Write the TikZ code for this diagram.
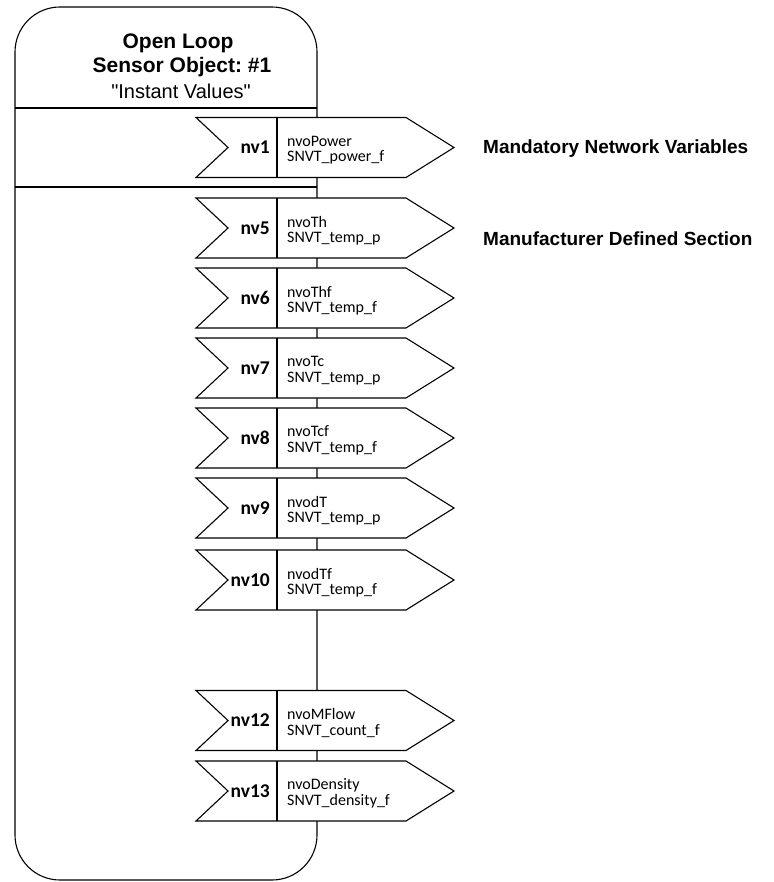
\documentclass[tikz,border=0pt]{standalone}
\usepackage{fontspec}
\setmainfont{Liberation Sans}
\newfontfamily\arialq{Liberation Sans}
\newfontfamily\calfont{Carlito}
\frenchspacing
\tikzset{
  outline/.style={line width=1.1pt, draw=black},
  nvshape/.style={outline, fill=white, line join=miter},
  nvlab/.style={font=\calfont\bfseries\fontsize{19.5}{20}\selectfont, inner sep=0pt},
  varlab/.style={font=\calfont\fontsize{16}{15.5}\selectfont, align=left, inner sep=0pt},
  sidelab/.style={font=\bfseries\fontsize{19}{22}\selectfont, inner sep=0pt, anchor=west},
  titlelab/.style={align=center, inner sep=0pt}
}
\newcommand\nvarrow[5]{%
  \draw[nvshape] (196,{#2-30}) -- (406,{#2-30}) -- (454,#2) -- (406,{#2+30}) -- (196,{#2+30}) -- (228,#2) -- cycle;
  \draw[outline] (277,{#2-30}) -- (277,{#2+30});
  \node[nvlab, anchor=east] (#1n) at (270,#2) {#3};
  \node[varlab, anchor=west] (#1v) at (287,{#2+2.5}) {#4\\#5};
}
\begin{document}
\begin{tikzpicture}[x=1pt,y=-1pt]
\useasboundingbox (0,0) rectangle (773,882);
\draw[outline, rounded corners=45pt] (15,7) rectangle (317,880);
\coordinate (l1a) at (15,108);
\coordinate (l1b) at (317,108);
\coordinate (l2a) at (15,187);
\coordinate (l2b) at (317,187);
\draw[outline] (l1a) -- (l1b);
\draw[outline] (l2a) -- (l2b);
\node[titlelab, font=\bfseries\fontsize{21}{25}\selectfont] (t1) at (178,43) {Open Loop};
\node[titlelab, font=\bfseries\fontsize{21}{25}\selectfont] (t2) at (182,67) {Sensor Object: \#1};
\node[titlelab, font=\arialq\fontsize{20}{24}\selectfont] (t3) at (181,91) {"Instant Values"};
\nvarrow{a1}{147.5}{nv1}{nvoPower}{SNVT\_power\_f}
\nvarrow{a5}{228}{nv5}{nvoTh}{SNVT\_temp\_p}
\nvarrow{a6}{298}{nv6}{nvoThf}{SNVT\_temp\_f}
\nvarrow{a7}{368}{nv7}{nvoTc}{SNVT\_temp\_p}
\nvarrow{a8}{438}{nv8}{nvoTcf}{SNVT\_temp\_f}
\nvarrow{a9}{508}{nv9}{nvodT}{SNVT\_temp\_p}
\nvarrow{a10}{580}{nv10}{nvodTf}{SNVT\_temp\_f}
\nvarrow{a12}{720.5}{nv12}{nvoMFlow}{SNVT\_count\_f}
\nvarrow{a13}{791}{nv13}{nvoDensity}{SNVT\_density\_f}
\node[sidelab] (mand) at (483,149) {Mandatory Network Variables};
\node[sidelab] (manu) at (483,239) {Manufacturer Defined Section};
\end{tikzpicture}
\end{document}
